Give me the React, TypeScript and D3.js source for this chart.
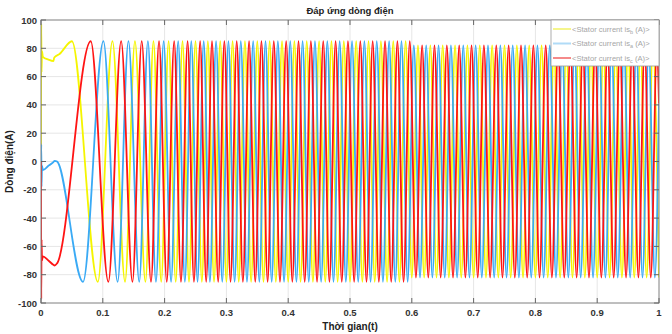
import React from "react";
import * as d3 from "d3";

// tick values
const xTicks = [0, 0.1, 0.2, 0.3, 0.4, 0.5, 0.6, 0.7, 0.8, 0.9, 1];
const yTicks = [-100, -80, -60, -40, -20, 0, 20, 40, 60, 80, 100];

// peak level (A) before / after the load step at 0.6 s
const peakLevels = [85, 82];
const levelStepAt = 0.6;

// start-up transient waypoints [t, value]
const startB: [number, number][] = [
  [0, 0], [0.0004, 97], [0.0009, 63], [0.0016, 78], [0.003, 74],
  [0.012, 72], [0.02, 71], [0.0215, 73.5], [0.03, 76],
];
const startA: [number, number][] = [
  [0, 0], [0.0004, 12], [0.0009, -18], [0.0016, -3], [0.003, -6],
  [0.012, -3], [0.02, -0.5], [0.022, 0.5], [0.026, 0],
];
const startC: [number, number][] = [
  [0, 0], [0.0004, -97], [0.0009, -55], [0.0016, -70], [0.003, -67],
  [0.012, -70], [0.02, -73], [0.022, -73.5], [0.026, -72],
];

// times of successive extrema (alternating sign)
const extremaB = [
  0.05, 0.092, 0.1156, 0.136, 0.152, 0.169, 0.182, 0.1945, 0.2065, 0.218, 0.229, 0.2395, 0.25, 0.2603,
  0.27, 0.28, 0.29, 0.3, 0.31, 0.32, 0.33, 0.34, 0.35, 0.36, 0.37, 0.38, 0.39, 0.4, 0.41, 0.42,
  0.43, 0.44, 0.45, 0.46, 0.47, 0.48, 0.49, 0.5, 0.51, 0.52, 0.53, 0.54, 0.55, 0.56, 0.57, 0.58,
  0.59, 0.6, 0.61, 0.62, 0.63, 0.64, 0.65, 0.66, 0.67, 0.68, 0.69, 0.7, 0.71, 0.72, 0.73, 0.74,
  0.75, 0.76, 0.77, 0.78, 0.79, 0.8, 0.81, 0.82, 0.83, 0.84, 0.85, 0.86, 0.87, 0.88, 0.89, 0.9,
  0.91, 0.92, 0.93, 0.94, 0.95, 0.96, 0.97, 0.98, 0.99, 1.0,
];
const extremaA = [
  0.068, 0.101, 0.124, 0.1415, 0.159, 0.173, 0.186, 0.1985, 0.2105, 0.222, 0.2328, 0.2432, 0.2533, 0.2633,
  0.2733, 0.2833, 0.2933, 0.3033, 0.3133, 0.3233, 0.3333, 0.3433, 0.3533, 0.3633, 0.3733, 0.3833,
  0.3933, 0.4033, 0.4133, 0.4233, 0.4333, 0.4433, 0.4533, 0.4633, 0.4733, 0.4833, 0.4933, 0.5033,
  0.5133, 0.5233, 0.5333, 0.5433, 0.5533, 0.5633, 0.5733, 0.5833, 0.5933, 0.6033, 0.6133, 0.6233,
  0.6333, 0.6433, 0.6533, 0.6633, 0.6733, 0.6833, 0.6933, 0.7033, 0.7133, 0.7233, 0.7333, 0.7433,
  0.7533, 0.7633, 0.7733, 0.7833, 0.7933, 0.8033, 0.8133, 0.8233, 0.8333, 0.8433, 0.8533, 0.8633,
  0.8733, 0.8833, 0.8933, 0.9033, 0.9133, 0.9233, 0.9333, 0.9433, 0.9533, 0.9633, 0.9733, 0.9833, 0.9933,
];
const extremaC = [
  0.0805, 0.109, 0.1297, 0.148, 0.163, 0.178, 0.191, 0.2035, 0.2155, 0.2265, 0.2372, 0.2475, 0.2575, 0.2673,
  0.2767, 0.2867, 0.2967, 0.3067, 0.3167, 0.3267, 0.3367, 0.3467, 0.3567, 0.3667, 0.3767, 0.3867,
  0.3967, 0.4067, 0.4167, 0.4267, 0.4367, 0.4467, 0.4567, 0.4667, 0.4767, 0.4867, 0.4967, 0.5067,
  0.5167, 0.5267, 0.5367, 0.5467, 0.5567, 0.5667, 0.5767, 0.5867, 0.5967, 0.6067, 0.6167, 0.6267,
  0.6367, 0.6467, 0.6567, 0.6667, 0.6767, 0.6867, 0.6967, 0.7067, 0.7167, 0.7267, 0.7367, 0.7467,
  0.7567, 0.7667, 0.7767, 0.7867, 0.7967, 0.8067, 0.8167, 0.8267, 0.8367, 0.8467, 0.8567, 0.8667,
  0.8767, 0.8867, 0.8967, 0.9067, 0.9167, 0.9267, 0.9367, 0.9467, 0.9567, 0.9667, 0.9767, 0.9867, 0.9967,
];

// sign of first extremum, and value at t = 1
const firstSign = { b: 1, a: -1, c: 1 };
const endA: [number, number] = [1, 41];
const endC: [number, number] = [1, 41];

const seriesNames = ["b", "a", "c"];
const seriesColors: Record<string, string> = { b: "#f5f500", a: "#3aaaf5", c: "#ff1414" };
const legendColors: Record<string, string> = { b: "#f5f58c", a: "#b0dbf7", c: "#f58a8a" };

const width = 672;
const height = 334;
const left = 41;
const right = 659;
const top = 20;
const bottom = 303;

function buildTrace(start: [number, number][], extrema: number[], sign: number, end?: [number, number]) {
  const pts: [number, number][] = start.map((p) => [p[0], p[1]]);
  extrema.forEach((t, i) => {
    const s = i % 2 === 0 ? sign : -sign;
    const level = t < levelStepAt ? peakLevels[0] : peakLevels[1];
    pts.push([t, s * level]);
  });
  if (end) pts.push(end);
  return pts;
}

const App: React.FC = () => {
  const x = d3.scaleLinear().domain([0, 1]).range([left, right]);
  const y = d3.scaleLinear().domain([-100, 100]).range([bottom, top]);

  const traces: Record<string, [number, number][]> = {
    b: buildTrace(startB, extremaB, firstSign.b),
    a: buildTrace(startA, extremaA, firstSign.a, endA),
    c: buildTrace(startC, extremaC, firstSign.c, endC),
  };

  const line = d3
    .line<[number, number]>()
    .x((d) => x(d[0]))
    .y((d) => y(d[1]))
    .curve(d3.curveMonotoneX);

  const font = "'Liberation Sans', Arial, sans-serif";

  return (
    <svg
      width={width}
      height={height}
      style={{ position: "absolute", left: 0, top: 0, background: "#fff" }}
      fontFamily={font}
    >
      <defs>
        <clipPath id="plot-clip">
          <rect x={left} y={top} width={right - left} height={bottom - top} />
        </clipPath>
      </defs>

      {/* grid */}
      {xTicks.map((t) => (
        <line key={"gx" + t} x1={x(t)} x2={x(t)} y1={top} y2={bottom} stroke="#e6e6e6" strokeWidth={1} />
      ))}
      {yTicks.map((t) => (
        <line key={"gy" + t} x1={left} x2={right} y1={y(t)} y2={y(t)} stroke="#e6e6e6" strokeWidth={1} />
      ))}

      {/* traces */}
      <g clipPath="url(#plot-clip)">
        {seriesNames.map((k) => (
          <path key={k} d={line(traces[k]) || ""} fill="none" stroke={seriesColors[k]} strokeWidth={1.8} />
        ))}
      </g>

      {/* box + ticks */}
      <rect x={left} y={top} width={right - left} height={bottom - top} fill="none" stroke="#8a8a8a" strokeWidth={1} />
      {xTicks.map((t) => (
        <g key={"tx" + t}>
          <line x1={x(t)} x2={x(t)} y1={bottom} y2={bottom - 5} stroke="#666" />
          <line x1={x(t)} x2={x(t)} y1={top} y2={top + 5} stroke="#666" />
          <text x={x(t)} y={bottom + 13} textAnchor="middle" fontSize={9.5} fontWeight="bold" fill="#333">
            {d3.format("~g")(t)}
          </text>
        </g>
      ))}
      {yTicks.map((t) => (
        <g key={"ty" + t}>
          <line x1={left} x2={left + 5} y1={y(t)} y2={y(t)} stroke="#666" />
          <line x1={right} x2={right - 5} y1={y(t)} y2={y(t)} stroke="#666" />
          <text x={left - 4} y={y(t) + 3.5} textAnchor="end" fontSize={9.5} fontWeight="bold" fill="#333">
            {t}
          </text>
        </g>
      ))}

      {/* titles */}
      <text x={(left + right) / 2} y={14} textAnchor="middle" fontSize={9.5} fontWeight="bold" fill="#222">
        Đáp ứng dòng điện
      </text>
      <text x={(left + right) / 2} y={330} textAnchor="middle" fontSize={10} fontWeight="bold" fill="#222">
        Thời gian(t)
      </text>
      <text
        transform={`translate(13, ${(top + bottom) / 2}) rotate(-90)`}
        textAnchor="middle"
        fontSize={10}
        fontWeight="bold"
        fill="#222"
      >
        Dòng điện(A)
      </text>

      {/* legend */}
      <g>
        <rect x={551} y={top} width={right - 551} height={46} fill="#fff" stroke="#9a9a9a" strokeWidth={0.8} />
        {seriesNames.map((k, i) => (
          <g key={"lg" + k} transform={`translate(553, ${29 + i * 14.5})`}>
            <line x1={0} x2={18} y1={0} y2={0} stroke={legendColors[k]} strokeWidth={2} />
            <text x={19} y={2.5} fontSize={7.6} fill="#a6a6a6">
              {"<Stator current is"}
              <tspan dy={2} fontSize={5.5}>{k}</tspan>
              <tspan dy={-2}>{" (A)>"}</tspan>
            </text>
          </g>
        ))}
      </g>
    </svg>
  );
};

export default App;
